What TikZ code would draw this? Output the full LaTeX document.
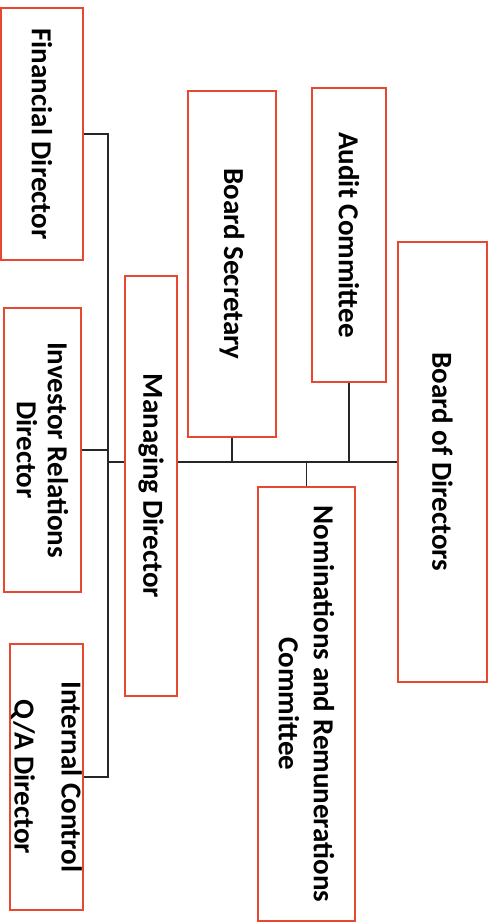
\documentclass[tikz,border=0pt]{standalone}
\usepackage{fontspec}
\setmainfont{Carlito}
\definecolor{boxred}{RGB}{232,72,48}
\begin{document}
\tikzset{
  box/.style={draw=boxred, line width=2pt, rotate=-90, inner sep=0pt, align=center,
    font=\fontsize{29}{31}\selectfont\bfseries},
  conn/.style={draw=black!85, line width=1.6pt}
}
\begin{tikzpicture}[x=1pt,y=-1pt]
\useasboundingbox (0,0) rectangle (493,923);
\node[box, minimum width=252pt, minimum height=82pt] (fin) at (42,134) {Financial Director};
\node[box, minimum width=284pt, minimum height=77pt] (ir) at (42.5,450) {Investor Relations\\Director};
\node[box, minimum width=266pt, minimum height=73pt] (ic) at (46.5,777) {Internal Control\\[16pt]Q/A Director};
\node[box, minimum width=420pt, minimum height=52pt] (md) at (151,486) {Managing Director};
\node[box, minimum width=346pt, minimum height=88pt] (bs) at (232,264) {Board Secretary};
\node[box, minimum width=294pt, minimum height=74pt] (ac) at (349,235) {Audit Committee};
\node[box, minimum width=440pt, minimum height=89pt] (bod) at (442.5,462) {Board of Directors};
\node[box, minimum width=434pt, minimum height=97pt] (nr) at (306.5,704) {Nominations and Remunerations\\[4pt]Committee};
\coordinate (vb) at (108,462);
\draw[conn] (fin.north) -| (vb);
\draw[conn] (ic.north) -| (vb);
\draw[conn] (ir.north) -| (vb);
\draw[conn] (vb) -- (vb -| md.south);
\draw[conn] (md.north |- bod.south) -- (bod.south);
\draw[conn] (bs.east) -- (bs.east |- bod.south);
\draw[conn] (ac.east) -- (ac.east |- bod.south);
\draw[conn] (nr.west) -- (nr.west |- bod.south);
\end{tikzpicture}
\end{document}
